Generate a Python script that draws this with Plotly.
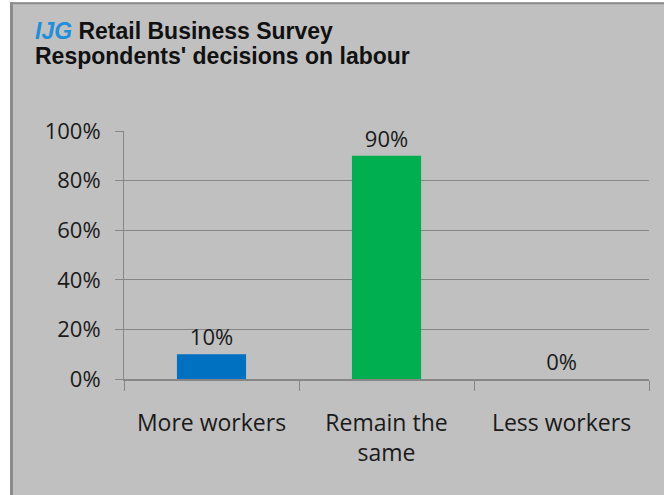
import plotly.graph_objects as go

# Survey answers and their shares
categories = ["More workers", "Remain the<br>same", "Less workers"]
shares = [10, 90, 0]
bar_colors = ["#0070C0", "#00B050", "#0070C0"]
y_ticks = [0, 20, 40, 60, 80, 100]
y_tick_labels = ["0%", "20%", "40%", "60%", "80%", "100%"]

W, H = 664, 495
L, R, T, B = 124, 15, 131, 115.5
pw, ph = W - L - R, H - T - B


def px_x(p):
    return (p - L) / pw


def px_y(p):
    return (H - B - p) / ph


grid = "#868686"
bg = "#C0C0C0"
tick_font = dict(family="Open Sans, sans-serif", size=22, color="#1a1a1a")
cat_font = dict(family="Open Sans, sans-serif", size=23, color="#1a1a1a")
title_font = dict(family="Liberation Sans, Arial", size=23, color="#111111")

fig = go.Figure(
    go.Bar(
        x=categories,
        y=shares,
        marker=dict(color=bar_colors, line=dict(width=0)),
        width=0.395,
        text=[f"{v}%" for v in shares],
        textposition="outside",
        textfont=tick_font,
        cliponaxis=False,
    )
)

fig.update_layout(
    width=W,
    height=H,
    margin=dict(l=L, r=R, t=T, b=B),
    paper_bgcolor=bg,
    plot_bgcolor=bg,
    showlegend=False,
    font=tick_font,
    shapes=[
        # frame on the left and top edges
        dict(type="line", xref="paper", yref="paper",
             x0=px_x(11.5), x1=px_x(11.5), y0=px_y(2), y1=px_y(H + 5),
             line=dict(color="#8C8C8C", width=3)),
        dict(type="line", xref="paper", yref="paper",
             x0=px_x(10), x1=px_x(W + 5), y0=px_y(3), y1=px_y(3),
             line=dict(color="#8C8C8C", width=2)),
        dict(type="rect", xref="paper", yref="paper",
             x0=px_x(-5), x1=px_x(10), y0=px_y(-5), y1=px_y(H + 5),
             fillcolor="white", line=dict(width=0), layer="below"),
        dict(type="rect", xref="paper", yref="paper",
             x0=px_x(-5), x1=px_x(W + 5), y0=px_y(-5), y1=px_y(2),
             fillcolor="white", line=dict(width=0), layer="below"),
    ],
    annotations=[
        dict(xref="paper", yref="paper", x=px_x(33), y=px_y(31),
             xanchor="left", yanchor="middle", showarrow=False,
             text="<b><i><span style='color:#1E8FDC'>IJG</span></i> Retail Business Survey</b>",
             font=title_font),
        dict(xref="paper", yref="paper", x=px_x(33), y=px_y(56),
             xanchor="left", yanchor="middle", showarrow=False,
             text="<b>Respondents' decisions on labour</b>",
             font=title_font),
    ],
)

fig.update_yaxes(
    range=[0, 100],
    tickvals=y_ticks,
    ticktext=y_tick_labels,
    showgrid=True,
    gridcolor=grid,
    gridwidth=1,
    showline=True,
    linecolor=grid,
    linewidth=1,
    ticks="outside",
    ticklen=8,
    tickcolor=grid,
    ticklabelstandoff=10,
    tickfont=tick_font,
    zeroline=False,
)
fig.update_xaxes(
    showline=True,
    linecolor=grid,
    linewidth=2,
    ticks="outside",
    tickson="boundaries",
    ticklen=10,
    tickcolor=grid,
    ticklabelstandoff=22,
    tickfont=cat_font,
    showgrid=False,
)

fig.write_html("out.html")
